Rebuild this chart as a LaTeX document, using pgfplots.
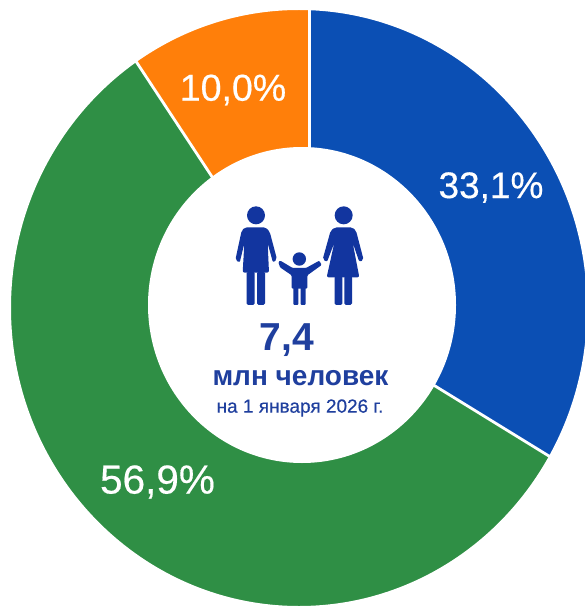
\documentclass[border=0pt]{standalone}
\usepackage{fontspec}
\setmainfont{Liberation Sans}
\newfontfamily\lbl[FakeBold=0.35]{Liberation Sans}
\usepackage{pgfplots}
\pgfplotsset{compat=1.18}
\definecolor{cblue}{HTML}{0B4FB4}
\definecolor{corange}{HTML}{FF7F0A}
\definecolor{cgreen}{HTML}{2F8F45}
\definecolor{cnavy}{HTML}{12359F}
\definecolor{ctext}{HTML}{1F3F9E}
\begin{document}
\begin{tikzpicture}
\useasboundingbox (0,0) rectangle (585pt,607pt);
\fill[white] (0,0) rectangle (585pt,607pt);
\begin{axis}[
  at={(0,0)}, anchor=south west,
  scale only axis, width=585pt, height=607pt,
  xmin=0, xmax=585, ymin=0, ymax=607, y dir=reverse,
  hide axis, clip mode=global]
% sectors: 33.1 %, 10.0 %, 56.9 % (boundaries in pixel positions)
\addplot[fill=cblue, draw=none] coordinates {(309,308.4)(309,-10)(700,-10)(700,549)} -- cycle;
\addplot[fill=corange, draw=none] coordinates {(309,324)(309,-10)(89,-10)} -- cycle;
\addplot[fill=cgreen, draw=none] coordinates {(309,324)(89,-10)(-50,-10)(-50,700)(700,700)(700,549)(309,308.4)} -- cycle;
% separators
\addplot[white, line width=3.4pt] coordinates {(309.3,324)(309.3,-10)};
\addplot[white, line width=2.8pt] coordinates {(309,308.4)(700,549)};
\addplot[white, line width=2.8pt] coordinates {(309,324)(89,-10)};
% outside of the ring and hole
\fill[white, even odd rule] (-100,-100) rectangle (800,800) (299,308) ellipse [x radius=288, y radius=298];
\fill[white] (302,305) ellipse [x radius=154, y radius=158];
\node[white, font=\fontsize{37}{37}\lbl] at (491,187.5) {33,1\%};
\node[white, font=\fontsize{37.5}{37.5}\lbl] at (233,90) {10,0\%};
\node[white, font=\fontsize{40.5}{40.5}\lbl] at (157.5,482) {56,9\%};
\node[ctext, font=\fontsize{39}{39}\selectfont\bfseries] at (287,340.5) {7,4};
\node[ctext, font=\fontsize{28}{28}\selectfont\bfseries] at (300.5,378) {млн человек};
\node[ctext, font=\fontsize{19}{19}\lbl] at (300,408) {на 1 января 2026 г.};
\end{axis}
\begin{scope}[shift={(200pt,417pt)}, x=0.33333pt, y=-0.33333pt]
 \fill[cnavy] (168,76) circle [radius=9pt];
 \fill[cnavy] (431,76) circle [radius=9pt];
 \fill[cnavy] (298,207) circle [radius=6.7pt];
 % left adult
 \fill[cnavy, rounded corners=2pt] (135,112)--(197,112)--(209,125)--(231,208)--(219,218)--(203,160)--(207,248)--(128,248)--(133,160)--(119,218)--(106,210)--(125,122)--cycle;
 \fill[cnavy, rounded corners=1.5pt] (140,245)--(164,245)--(164,345)--(140,345)--cycle;
 \fill[cnavy, rounded corners=1.5pt] (171,245)--(195,245)--(195,345)--(171,345)--cycle;
 % right adult
 \fill[cnavy, rounded corners=2pt] (405,112)--(457,112)--(468,122)--(491,210)--(478,216)--(458,158)--(478,262)--(380,262)--(403,158)--(381,216)--(368,208)--(392,122)--cycle;
 \fill[cnavy, rounded corners=1.5pt] (404,258)--(427,258)--(427,345)--(404,345)--cycle;
 \fill[cnavy, rounded corners=1.5pt] (433,258)--(456,258)--(456,345)--(433,345)--cycle;
 % child
 \fill[cnavy, rounded corners=1pt] (278,234)--(318,234)--(358,212)--(365,225)--(322,256)--(322,296)--(275,296)--(275,256)--(240,232)--(235,216)--(241,212)--cycle;
 \fill[cnavy, rounded corners=1pt] (280,292)--(295,292)--(295,345)--(280,345)--cycle;
 \fill[cnavy, rounded corners=1pt] (302,292)--(317,292)--(317,345)--(302,345)--cycle;
\end{scope}
\end{tikzpicture}
\end{document}
